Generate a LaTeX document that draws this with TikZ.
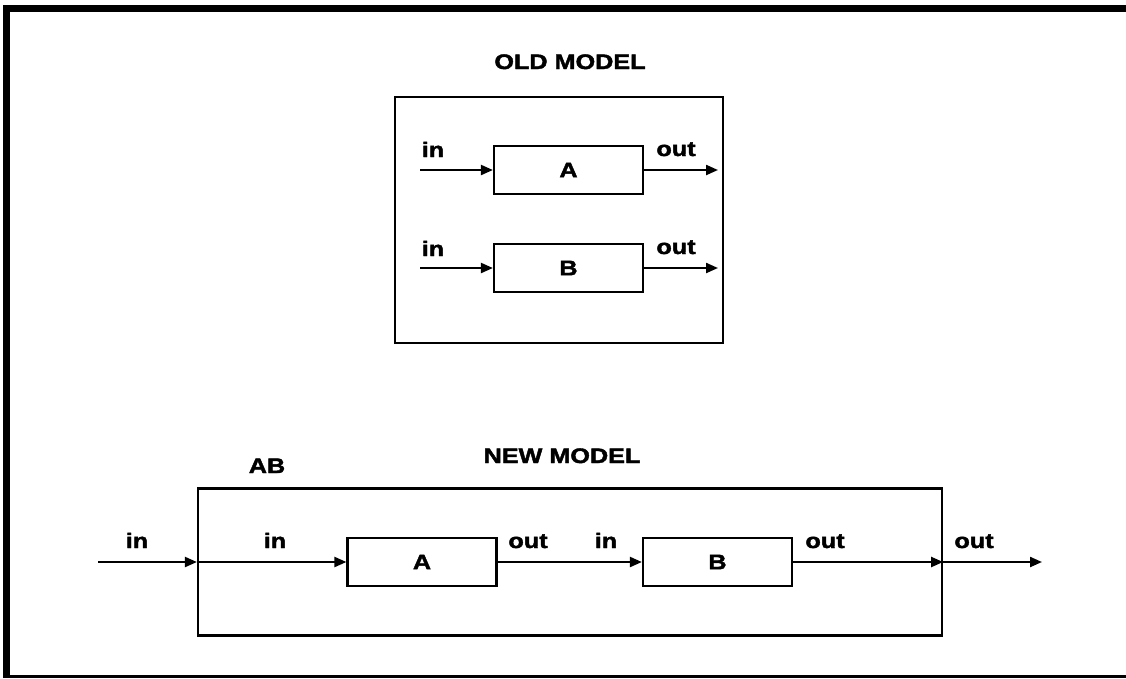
\documentclass[tikz,border=0pt]{standalone}
\usepackage{fontspec}
\setmainfont{Liberation Sans}[FakeStretch=1.2,BoldFeatures={FakeBold=2}]
\usetikzlibrary{arrows.meta}
\begin{document}
\begin{tikzpicture}[x=1pt,y=-1pt,
  blockbox/.style={draw,line width=2.2pt,minimum width=149pt,minimum height=48pt,inner sep=0pt,font=\fontsize{21}{23}\selectfont\bfseries},
  framebox/.style={draw,line width=2.2pt,inner sep=0pt},
  lbl/.style={anchor=base,inner sep=0pt,font=\fontsize{21}{23}\selectfont\bfseries},
  flow/.style={line width=2.2pt,-{Triangle[length=12pt,width=10pt]}}]
\useasboundingbox (0,0) rectangle (1126,678);

% page frame
\draw[line width=7pt] (6.5,5) -- (6.5,678);
\draw[line width=6.5pt] (3,8.3) -- (1126,8.3);
\draw[line width=3pt] (3,676) -- (1126,676);

% ---------- old model ----------
\node[lbl] (oldtitle) at (570,69) {OLD MODEL};
\node[framebox,minimum width=328pt,minimum height=246pt] (old) at (559,220) {};

\node[blockbox] (oA) at (568.5,170) {A};
\node[blockbox] (oB) at (568.5,268) {B};
\coordinate (oAin) at (420,170);
\coordinate (oAout) at (718,170);
\coordinate (oBin) at (420,268);
\coordinate (oBout) at (718,268);
\draw[flow] (oAin) -- (oA.west);
\draw[flow] (oA.east) -- (oAout);
\draw[flow] (oBin) -- (oB.west);
\draw[flow] (oB.east) -- (oBout);
\node[lbl] (oAinl) at (433,157) {in};
\node[lbl] (oAoutl) at (676,156) {out};
\node[lbl] (oBinl) at (433,256) {in};
\node[lbl] (oBoutl) at (676,254) {out};

% ---------- new model ----------
\node[lbl] (newtitle) at (562,463) {NEW MODEL};
\node[lbl] (abl) at (267,473) {AB};
\node[framebox,minimum width=744pt,minimum height=147pt] (AB) at (570,562) {};

\node[blockbox] (nA) at (422,562) {A};
\node[blockbox] (nB) at (717.5,562) {B};
\coordinate (nin) at (98,562);
\coordinate (nout) at (1042,562);
\draw[flow] (nin) -- (AB.west);
\draw[flow] (AB.west) -- (nA.west);
\draw[flow] (nA.east) -- (nB.west);
\draw[flow] (nB.east) -- (AB.east);
\draw[flow] (AB.east) -- (nout);
\node[lbl] (ninl) at (137,548) {in};
\node[lbl] (nAinl) at (275,548) {in};
\node[lbl] (nAoutl) at (528,548) {out};
\node[lbl] (nBinl) at (606,548) {in};
\node[lbl] (nBoutl) at (825,548) {out};
\node[lbl] (noutl) at (974,548) {out};
\end{tikzpicture}
\end{document}
